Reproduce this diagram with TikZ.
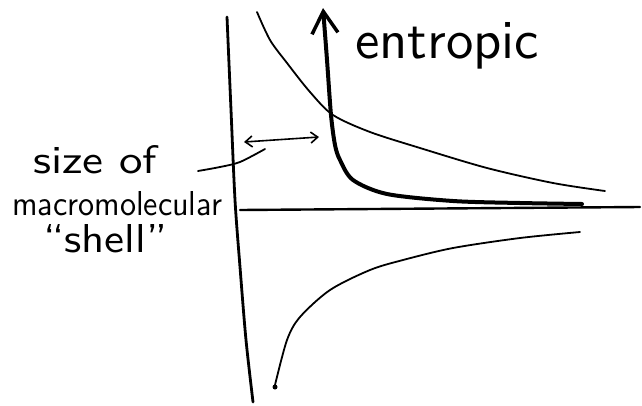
\documentclass[tikz,border=0pt]{standalone}
\usetikzlibrary{arrows.meta}
\begin{document}
\begin{tikzpicture}[x=1pt,y=-1pt,line cap=round,line join=round,
  axisline/.style={line width=2.8pt},
  thincurve/.style={line width=1.8pt},
  thickcurve/.style={line width=4pt},
  hand/.style={inner sep=0pt,anchor=base west,font=\sffamily}]
\useasboundingbox (0,0) rectangle (642,405);
% axes
\draw[axisline] plot[smooth] coordinates {(227,17) (231,110) (235,200) (240,267) (246,340) (253,402)};
\draw[line width=2.4pt] (240,210) -- (640,207);
% thin upper curve
\draw[thincurve] plot[smooth] coordinates {(257,12) (270,40) (287,63) (310,92) (333,115) (370,132) (420,148) (487,168) (553,183) (605,191)};
% thick entropic curve
\draw[thickcurve,{Straight Barb[length=22pt,width=26pt,line width=3.5pt]}-] plot[smooth] coordinates {(323,8) (327,60) (331,115) (335,145) (340,160) (353,180) (387,194) (453,201) (520,203) (582,204)};
% lower curve
\draw[thincurve] plot[smooth] coordinates {(275,385) (287,340) (300,317) (330,290) (370,270) (403,260) (453,248) (520,238) (580,232)};
\fill (275,387) circle (2.5pt);
% size arrow
\coordinate (sa) at (244,142);
\coordinate (sb) at (319,137);
\draw[line width=1.6pt,{Straight Barb[length=7pt,width=11pt]}-{Straight Barb[length=7pt,width=11pt]}] (sa) -- (sb);
% pointer
\draw[thincurve] plot[smooth] coordinates {(198,171) (220,167) (240,162) (265,149)};
% labels
\node[hand] (ent) at (355,58) {\resizebox{184pt}{36pt}{entropic}};
\node[hand] (l1) at (33,173) {\resizebox{124pt}{28pt}{size of}};
\node[hand] (l2) at (12,215) {\resizebox{210pt}{24pt}{macromolecular}};
\node[hand] (l3) at (43,252) {\resizebox{124pt}{28pt}{``shell''}};
\end{tikzpicture}
\end{document}
